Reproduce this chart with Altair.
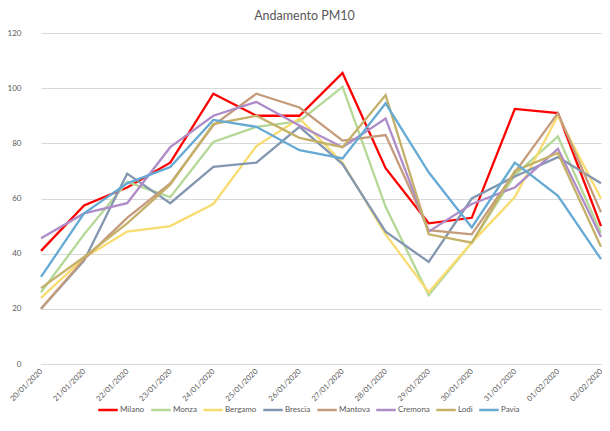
import altair as alt
import pandas as pd

dates = ["20/01/2020", "21/01/2020", "22/01/2020", "23/01/2020", "24/01/2020",
         "25/01/2020", "26/01/2020", "27/01/2020", "28/01/2020", "29/01/2020",
         "30/01/2020", "31/01/2020", "01/02/2020", "02/02/2020"]

cities = ["Milano", "Monza", "Bergamo", "Brescia", "Mantova", "Cremona", "Lodi", "Pavia"]
colors = ["#FF0000", "#B4D896", "#F8DC70", "#8497B0", "#C49C7C", "#AE8CC8", "#C4B068", "#66AAD4"]

milano = [41, 57.5, 64, 73, 98, 90, 90, 105.5, 71, 51, 53, 92.5, 91, 50]
monza = [26, 47, 66, 60.5, 80.5, 86, 88, 100.5, 57, 25, 44, 68.5, 82.5, 47.5]
bergamo = [24, 38.5, 48, 50, 58, 79, 89, 73, 47, 26, 44, 60.5, 90, 60]
brescia = [20, 37.5, 69, 58.3, 71.5, 73, 86, 72.5, 48, 37, 60, 68, 75, 65.5]
mantova = [20, 38, 53, 65.5, 86.5, 98, 93, 81, 83, 48.5, 47, 69.5, 91, 55]
cremona = [45.6, 54.6, 58.3, 78.6, 90, 95, 86.5, 78.6, 89, 48, 58, 64, 78, 46]
lodi = [27.5, 38.8, 51, 65, 87, 90, 82, 78.6, 97.5, 47, 44, 70, 76.5, 42.5]
pavia = [31.6, 54.6, 65.5, 71.4, 88.5, 86, 77.5, 74.5, 94.5, 69.5, 49.5, 73, 61, 38]

series = [milano, monza, bergamo, brescia, mantova, cremona, lodi, pavia]

rows = []
for ci, (city, vals) in enumerate(zip(cities, series)):
    for d, v in zip(dates, vals):
        rows.append({"Data": d, "Città": city, "PM10": v, "ord": ci})
df = pd.DataFrame(rows)

gray = "#595959"
font = "Lato"

chart = alt.Chart(df).mark_line(strokeWidth=2.3, strokeJoin="miter").encode(
    x=alt.X("Data:N", sort=dates,
            scale=alt.Scale(type="point", range=[18, 578], padding=0),
            axis=alt.Axis(title=None, labelAngle=315, labelAlign="right",
                          labelBaseline="middle", labelFontSize=7.6, labelColor=gray,
                          labelFont=font, labelPadding=6, ticks=False,
                          domainColor="#D9D9D9", grid=False, labelOverlap=False)),
    y=alt.Y("PM10:Q", scale=alt.Scale(domain=[0, 120], nice=False, zero=True),
            axis=alt.Axis(title=None, values=[0, 20, 40, 60, 80, 100, 120],
                          labelFontSize=8, labelColor=gray, labelFont=font,
                          labelPadding=2, ticks=False, domain=False,
                          gridColor="#D9D9D9", gridWidth=1)),
    color=alt.Color("Città:N", sort=cities,
                    scale=alt.Scale(domain=cities, range=colors),
                    legend=alt.Legend(title=None, orient="none", legendX=74, legendY=366,
                                      direction="horizontal", columns=8,
                                      symbolType="stroke", symbolSize=380,
                                      symbolStrokeWidth=2.5, labelFontSize=8,
                                      labelColor=gray, labelFont=font, labelOffset=1,
                                      columnPadding=1, padding=0)),
    order=alt.Order("ord:Q"),
).properties(
    width=579,
    height=331,
    title=alt.TitleParams("Andamento PM10", fontSize=12.5, font=font, fontWeight="normal",
                          color=gray, anchor="middle", dx=-8, offset=7),
    autosize=alt.AutoSizeParams(type="none"),
    padding={"left": 15, "top": 25, "right": 0, "bottom": 54},
).configure_view(stroke=None)

chart.save("out.html", embed_options={"renderer": "svg", "actions": False})
